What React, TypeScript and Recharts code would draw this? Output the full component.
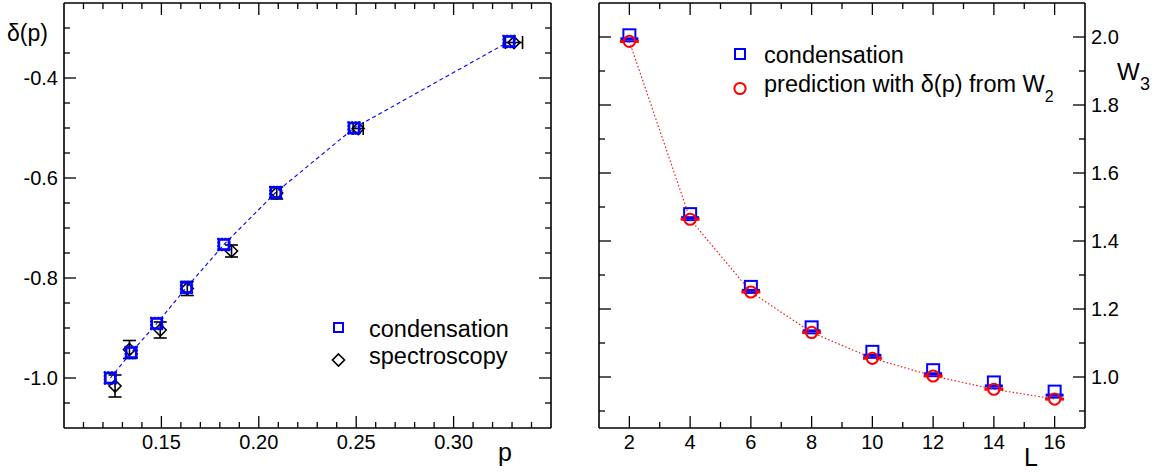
import React from 'react';
import { ScatterChart, Scatter, XAxis, YAxis, ErrorBar } from 'recharts';

const FONT = '"Liberation Sans", Arial, Helvetica, sans-serif';
const BLUE = '#0000ff';
const RED = '#ff0000';

// ---------- Left panel: delta(p) vs p ----------
const condP = [0.1238, 0.1345, 0.1476, 0.1629, 0.1821, 0.2087, 0.2489, 0.3285];
const condDelta = [-1.0, -0.949, -0.891, -0.819, -0.733, -0.629, -0.5, -0.327];
const specP = [0.1262, 0.1336, 0.1494, 0.1633, 0.186, 0.2092, 0.251, 0.331];
const specDelta = [-1.016, -0.943, -0.904, -0.821, -0.746, -0.63, -0.501, -0.329];
const specErrY = [0.022, 0.018, 0.016, 0.014, 0.012, 0.012, 0, 0];
const specErrX = [0, 0, 0, 0, 0, 0, 0.0026, 0.0044];

const pDomain = [0.1, 0.35];
const pTicks = [0.11, 0.12, 0.13, 0.14, 0.15, 0.16, 0.17, 0.18, 0.19, 0.2, 0.21, 0.22, 0.23, 0.24, 0.25, 0.26, 0.27, 0.28, 0.29, 0.3, 0.31, 0.32, 0.33, 0.34];
const pMajor = [0.15, 0.2, 0.25, 0.3];
const pLabels = ['0.15', '0.20', '0.25', '0.30'];
const dDomain = [-1.1, -0.25];
const dTicks = [-1.05, -1.0, -0.95, -0.9, -0.85, -0.8, -0.75, -0.7, -0.65, -0.6, -0.55, -0.5, -0.45, -0.4, -0.35, -0.3];
const dMajor = [-1.0, -0.8, -0.6, -0.4];
const dLabels = ['-1.0', '-0.8', '-0.6', '-0.4'];

// ---------- Right panel: W3 vs L ----------
const sizesL = [2, 4, 6, 8, 10, 12, 14, 16];
const condW3 = [2.005, 1.479, 1.265, 1.146, 1.074, 1.02, 0.984, 0.957];
const predW3 = [1.987, 1.464, 1.25, 1.131, 1.055, 1.003, 0.964, 0.935];

const lDomain = [1, 17];
const lTicks = [2, 3, 4, 5, 6, 7, 8, 9, 10, 11, 12, 13, 14, 15, 16];
const lMajor = [2, 4, 6, 8, 10, 12, 14, 16];
const lLabels = ['2', '4', '6', '8', '10', '12', '14', '16'];
const wDomain = [0.85, 2.1];
const wTicks = [0.9, 1.0, 1.1, 1.2, 1.3, 1.4, 1.5, 1.6, 1.7, 1.8, 1.9, 2.0];
const wMajor = [1.0, 1.2, 1.4, 1.6, 1.8, 2.0];
const wLabels = ['1.0', '1.2', '1.4', '1.6', '1.8', '2.0'];

const condData = condP.map((x, i) => ({ x, y: condDelta[i] }));
const specData = specP.map((x, i) => ({ x, y: specDelta[i], ey: specErrY[i], ex: specErrX[i] }));
const condWData = sizesL.map((x, i) => ({ x, y: condW3[i] }));
const predWData = sizesL.map((x, i) => ({ x, y: predW3[i] }));

type Side = 'left' | 'right' | 'top' | 'bottom';

const makeTick = (side: Side, majors: number[], labels: string[] | null) => (props: any) => {
  const { x, y, payload } = props;
  const idx = majors.findIndex((m) => Math.abs(m - payload.value) < 1e-6);
  const len = idx >= 0 ? 12 : 6;
  let x2 = x;
  let y2 = y;
  if (side === 'left') x2 = x + len;
  if (side === 'right') x2 = x - len;
  if (side === 'top') y2 = y + len;
  if (side === 'bottom') y2 = y - len;
  let label: any = null;
  if (labels && idx >= 0) {
    const common = { fontFamily: FONT, fontSize: 20, fill: '#000' };
    if (side === 'left')
      label = (
        <text x={x - 6} y={y} dy="0.36em" textAnchor="end" {...common}>
          {labels[idx]}
        </text>
      );
    if (side === 'right')
      label = (
        <text x={x + 6} y={y} dy="0.36em" textAnchor="start" {...common}>
          {labels[idx]}
        </text>
      );
    if (side === 'bottom')
      label = (
        <text x={x} y={y + 21} textAnchor="middle" {...common}>
          {labels[idx]}
        </text>
      );
  }
  return (
    <g>
      <line x1={x} y1={y} x2={x2} y2={y2} stroke="#000" strokeWidth={1.3} />
      {label}
    </g>
  );
};

const axisLine = { stroke: '#000', strokeWidth: 1.6 };

const SquareL = (p: any) => {
  const { cx, cy } = p;
  if (cx == null || cy == null) return null;
  return (
    <g>
      <rect x={cx - 5} y={cy - 5} width={10} height={10} fill="none" stroke={BLUE} strokeWidth={2.6} />
      <line x1={cx - 6.5} y1={cy - 6} x2={cx + 6.5} y2={cy - 6} stroke={BLUE} strokeWidth={1.3} strokeDasharray="2 1.5" />
      <line x1={cx - 6.5} y1={cy + 6} x2={cx + 6.5} y2={cy + 6} stroke={BLUE} strokeWidth={1.3} strokeDasharray="2 1.5" />
      <line x1={cx - 6} y1={cy - 6.5} x2={cx - 6} y2={cy + 6.5} stroke={BLUE} strokeWidth={1.3} strokeDasharray="2 1.5" />
      <line x1={cx + 6} y1={cy - 6.5} x2={cx + 6} y2={cy + 6.5} stroke={BLUE} strokeWidth={1.3} strokeDasharray="2 1.5" />
    </g>
  );
};

const Diamond = (p: any) => {
  const { cx, cy } = p;
  if (cx == null || cy == null) return null;
  const r = 6;
  return (
    <path
      d={`M${cx},${cy - r}L${cx + r},${cy}L${cx},${cy + r}L${cx - r},${cy}Z`}
      fill="none"
      stroke="#000"
      strokeWidth={1.6}
    />
  );
};

const SquareR = (p: any) => {
  const { cx, cy } = p;
  if (cx == null || cy == null) return null;
  return (
    <g>
      <rect x={cx - 6} y={cy - 6} width={12} height={12} fill="none" stroke={BLUE} strokeWidth={2} />
      <line x1={cx - 9} y1={cy + 3.5} x2={cx + 9} y2={cy + 3.5} stroke={BLUE} strokeWidth={3} />
    </g>
  );
};

const CircleR = (p: any) => {
  const { cx, cy } = p;
  if (cx == null || cy == null) return null;
  return (
    <g>
      <line x1={cx - 9.5} y1={cy} x2={cx - 5.5} y2={cy} stroke={RED} strokeWidth={3} />
      <line x1={cx + 5.5} y1={cy} x2={cx + 9.5} y2={cy} stroke={RED} strokeWidth={3} />
      <circle cx={cx} cy={cy} r={5.6} fill="none" stroke={RED} strokeWidth={2} />
    </g>
  );
};

const LeftChart = () => (
  <ScatterChart width={580} height={472} margin={{ top: 2, right: 28, bottom: 43, left: 63 }}>
    <XAxis xAxisId="b" orientation="bottom" type="number" dataKey="x" domain={pDomain} allowDataOverflow
      ticks={pTicks} interval={0} tickSize={0} tickMargin={0} height={1} tickLine={false} axisLine={axisLine}
      tick={makeTick('bottom', pMajor, pLabels)} />
    <XAxis xAxisId="t" orientation="top" type="number" dataKey="x" domain={pDomain} allowDataOverflow
      ticks={pTicks} interval={0} tickSize={0} tickMargin={0} height={1} tickLine={false} axisLine={axisLine}
      tick={makeTick('top', pMajor, null)} />
    <YAxis yAxisId="l" orientation="left" type="number" dataKey="y" domain={dDomain} allowDataOverflow
      ticks={dTicks} interval={0} tickSize={0} tickMargin={0} width={1} tickLine={false} axisLine={axisLine}
      tick={makeTick('left', dMajor, dLabels)} />
    <YAxis yAxisId="r" orientation="right" type="number" dataKey="y" domain={dDomain} allowDataOverflow
      ticks={dTicks} interval={0} tickSize={0} tickMargin={0} width={1} tickLine={false} axisLine={axisLine}
      tick={makeTick('right', dMajor, null)} />
    <Scatter xAxisId="t" yAxisId="r" data={specData} shape={Diamond} isAnimationActive={false}>
      <ErrorBar dataKey="ey" direction="y" width={6.5} stroke="#000" strokeWidth={1.6} />
      <ErrorBar dataKey="ex" direction="x" width={6.5} stroke="#000" strokeWidth={1.6} />
    </Scatter>
    <Scatter xAxisId="b" yAxisId="l" data={condData} shape={SquareL} isAnimationActive={false}
      line={{ stroke: BLUE, strokeWidth: 1.1, strokeDasharray: '4 3' }} lineType="joint" />
  </ScatterChart>
);

const RightChart = () => (
  <ScatterChart width={582} height={472} margin={{ top: 2, right: 76, bottom: 43, left: 18 }}>
    <XAxis xAxisId="b" orientation="bottom" type="number" dataKey="x" domain={lDomain} allowDataOverflow
      ticks={lTicks} interval={0} tickSize={0} tickMargin={0} height={1} tickLine={false} axisLine={axisLine}
      tick={makeTick('bottom', lMajor, lLabels)} />
    <XAxis xAxisId="t" orientation="top" type="number" dataKey="x" domain={lDomain} allowDataOverflow
      ticks={lTicks} interval={0} tickSize={0} tickMargin={0} height={1} tickLine={false} axisLine={axisLine}
      tick={makeTick('top', lMajor, null)} />
    <YAxis yAxisId="l" orientation="left" type="number" dataKey="y" domain={wDomain} allowDataOverflow
      ticks={wTicks} interval={0} tickSize={0} tickMargin={0} width={1} tickLine={false} axisLine={axisLine}
      tick={makeTick('left', wMajor, null)} />
    <YAxis yAxisId="r" orientation="right" type="number" dataKey="y" domain={wDomain} allowDataOverflow
      ticks={wTicks} interval={0} tickSize={0} tickMargin={0} width={1} tickLine={false} axisLine={axisLine}
      tick={makeTick('right', wMajor, wLabels)} />
    <Scatter xAxisId="b" yAxisId="l" data={condWData} shape={SquareR} isAnimationActive={false} />
    <Scatter xAxisId="t" yAxisId="r" data={predWData} shape={CircleR} isAnimationActive={false}
      line={{ stroke: RED, strokeWidth: 1.1, strokeDasharray: '1.5 2.2' }} lineType="joint" />
  </ScatterChart>
);

const Overlay = () => (
  <svg width={1162} height={472} style={{ position: 'absolute', left: 0, top: 0, pointerEvents: 'none' }}
    fontFamily={FONT}>
    {/* axis titles */}
    <text x={7} y={41} fontSize={23} fill="#000">δ(p)</text>
    <text x={498} y={461} fontSize={25} fill="#000">p</text>
    <text x={1024} y={466} fontSize={25} fill="#000">L</text>
    <text x={1117} y={80} fontSize={24} fill="#000">W</text>
    <text x={1140} y={90} fontSize={18} fill="#000">3</text>

    {/* left legend */}
    <rect x={334} y={323} width={9} height={9} fill="none" stroke={BLUE} strokeWidth={2} />
    <text x={369} y={337} fontSize={23.5} fill="#000">condensation</text>
    <path d="M338.5,354 L344.5,360 L338.5,366 L332.5,360 Z" fill="none" stroke="#000" strokeWidth={1.6} />
    <text x={369} y={364} fontSize={23.5} fill="#000">spectroscopy</text>

    {/* right legend */}
    <rect x={735} y={49} width={10} height={10} fill="none" stroke={BLUE} strokeWidth={2} />
    <text x={764} y={63} fontSize={23.5} fill="#000">condensation</text>
    <circle cx={740} cy={88.5} r={5.6} fill="none" stroke={RED} strokeWidth={2} />
    <text x={764} y={92} fontSize={23.5} fill="#000">
      prediction with δ(p) from W<tspan fontSize={16} dy={10}>2</tspan>
    </text>
  </svg>
);

export default function App() {
  return (
    <div style={{ position: 'absolute', left: 0, top: 0, width: 1162, height: 472, background: '#fff' }}>
      <div style={{ position: 'absolute', left: 0, top: 0 }}>
        <LeftChart />
      </div>
      <div style={{ position: 'absolute', left: 580, top: 0 }}>
        <RightChart />
      </div>
      <Overlay />
    </div>
  );
}
